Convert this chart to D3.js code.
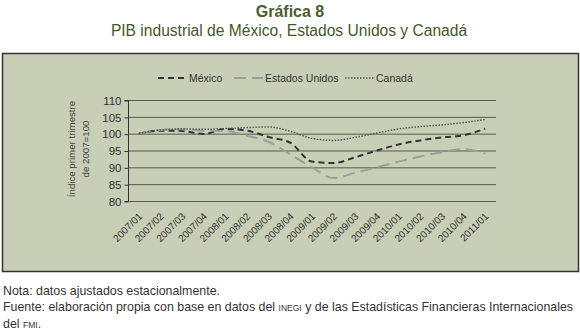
<!DOCTYPE html>
<html><head><meta charset="utf-8">
<script src="https://cdn.jsdelivr.net/npm/d3@7/dist/d3.min.js"></script>
<style>
body{margin:0;background:#fff;}
svg{display:block;font-family:"Liberation Sans",Arial,sans-serif;}
</style></head>
<body><svg id="c" width="580" height="331"></svg>
<script>
const categories = ["2007/01","2007/02","2007/03","2007/04","2008/01","2008/02","2008/03","2008/04","2009/01","2009/02","2009/03","2009/04","2010/01","2010/02","2010/03","2010/04","2011/01"];
const mexico = [100,100.9,100.8,99.9,101.4,100.9,99.0,97.3,91.7,91.3,93.0,95.0,96.8,98.0,98.9,99.5,101.5];
const estadosUnidos = [100,101.1,101.3,100.9,100.8,99.4,97.6,93.8,90.0,86.8,88.4,90.0,91.7,93.2,94.5,95.4,94.1];
const canada = [100,101.1,101.4,101.3,101.5,101.8,102.0,100.7,98.6,98.0,98.9,100.2,101.4,102.1,102.6,103.3,104.2];
const yTicks = [80,85,90,95,100,105,110];

const svg = d3.select("#c");
const bg = "#c8cfb6";

svg.append("text").attr("x",290).attr("y",17).attr("text-anchor","middle")
  .attr("font-size",16).attr("font-weight","bold").attr("fill","#4b5e2d").text("Gráfica 8");
svg.append("text").attr("x",289).attr("y",36).attr("text-anchor","middle")
  .attr("font-size",15.6).attr("fill","#3f5a25").text("PIB industrial de México, Estados Unidos y Canadá");

svg.append("rect").attr("x",2.5).attr("y",53.5).attr("width",576).attr("height",218)
  .attr("fill",bg).attr("stroke","#333").attr("stroke-width",1.5);

const L=128,R=496,T=100,B=201;
const x = d3.scaleBand().domain(categories).range([L,R]);
const y = d3.scaleLinear().domain([80,110]).range([B,T]);

// gridlines
svg.append("g").selectAll("line").data(yTicks).join("line")
  .attr("x1",L).attr("x2",R).attr("y1",d=>y(d)+0.5).attr("y2",d=>y(d)+0.5)
  .attr("stroke","#555b50").attr("stroke-width",1);

const ya = svg.append("g").attr("transform",`translate(${L+0.5},0.5)`)
  .call(d3.axisLeft(y).tickValues(yTicks).tickSize(4).tickPadding(3));
ya.select(".domain").attr("stroke","#333").attr("d",`M-4,${T}H0V${B}H-4`);
ya.selectAll(".tick line").attr("stroke","#333");
ya.selectAll("text").attr("font-size",11.5).attr("fill","#333").attr("font-family","Liberation Sans, Arial, sans-serif");

// x labels
const xg = svg.append("g");
xg.selectAll("text").data(categories).join("text")
  .attr("text-anchor","end").attr("font-size",10).attr("fill","#333")
  .attr("transform",d=>"translate(" + (x(d)+x.bandwidth()/2+4) + "," + (B+16) + ") rotate(-45)")
  .text(d=>d);

// y title
const yt = svg.append("text").attr("transform","translate(75,149) rotate(-90)")
  .attr("text-anchor","middle").attr("font-size",9.7).attr("fill","#444");
yt.append("tspan").attr("x",0).attr("dy",0).text("Índice primer trimestre");
yt.append("tspan").attr("x",0).attr("dy",14).text("de 2007=100");

const series = [
  {name:"México", values:mexico, color:"#333", dash:"6,4", width:2},
  {name:"Estados Unidos", values:estadosUnidos, color:"#9d9f9a", dash:"12,6", width:2},
  {name:"Canadá", values:canada, color:"#555", dash:"1.5,1.5", width:1.5}
];
const line = d3.line().x((d,i)=>x(categories[i])+x.bandwidth()/2).y(d=>y(d)).curve(d3.curveMonotoneX);
series.forEach(s=>{
  svg.append("path").datum(s.values).attr("d",line).attr("fill","none")
    .attr("stroke",s.color).attr("stroke-width",s.width).attr("stroke-dasharray",s.dash);
});

// legend
const legX=[158,234,345];
series.forEach((s,i)=>{
  svg.append("line").attr("x1",legX[i]).attr("x2",legX[i]+29).attr("y1",78).attr("y2",78)
    .attr("stroke",s.color).attr("stroke-width",s.width).attr("stroke-dasharray",s.dash);
  svg.append("text").attr("x",legX[i]+31).attr("y",82).attr("font-size",10.5).attr("fill","#333").text(s.name);
});

// notes
const nt = {fs:12.4, c:"#333"};
svg.append("text").attr("x",3).attr("y",295).attr("font-size",nt.fs).attr("fill",nt.c).text("Nota: datos ajustados estacionalmente.");
const f = svg.append("text").attr("x",3).attr("y",311).attr("font-size",nt.fs).attr("fill",nt.c);
f.append("tspan").text("Fuente: elaboración propia con base en datos del ");
f.append("tspan").attr("font-size",8.5).text("INEGI");
f.append("tspan").text(" y de las Estadísticas Financieras Internacionales");
const g2 = svg.append("text").attr("x",3).attr("y",328).attr("font-size",nt.fs).attr("fill",nt.c);
g2.append("tspan").text("del ");
g2.append("tspan").attr("font-size",8.5).text("FMI");
g2.append("tspan").text(".");
</script></body></html>
